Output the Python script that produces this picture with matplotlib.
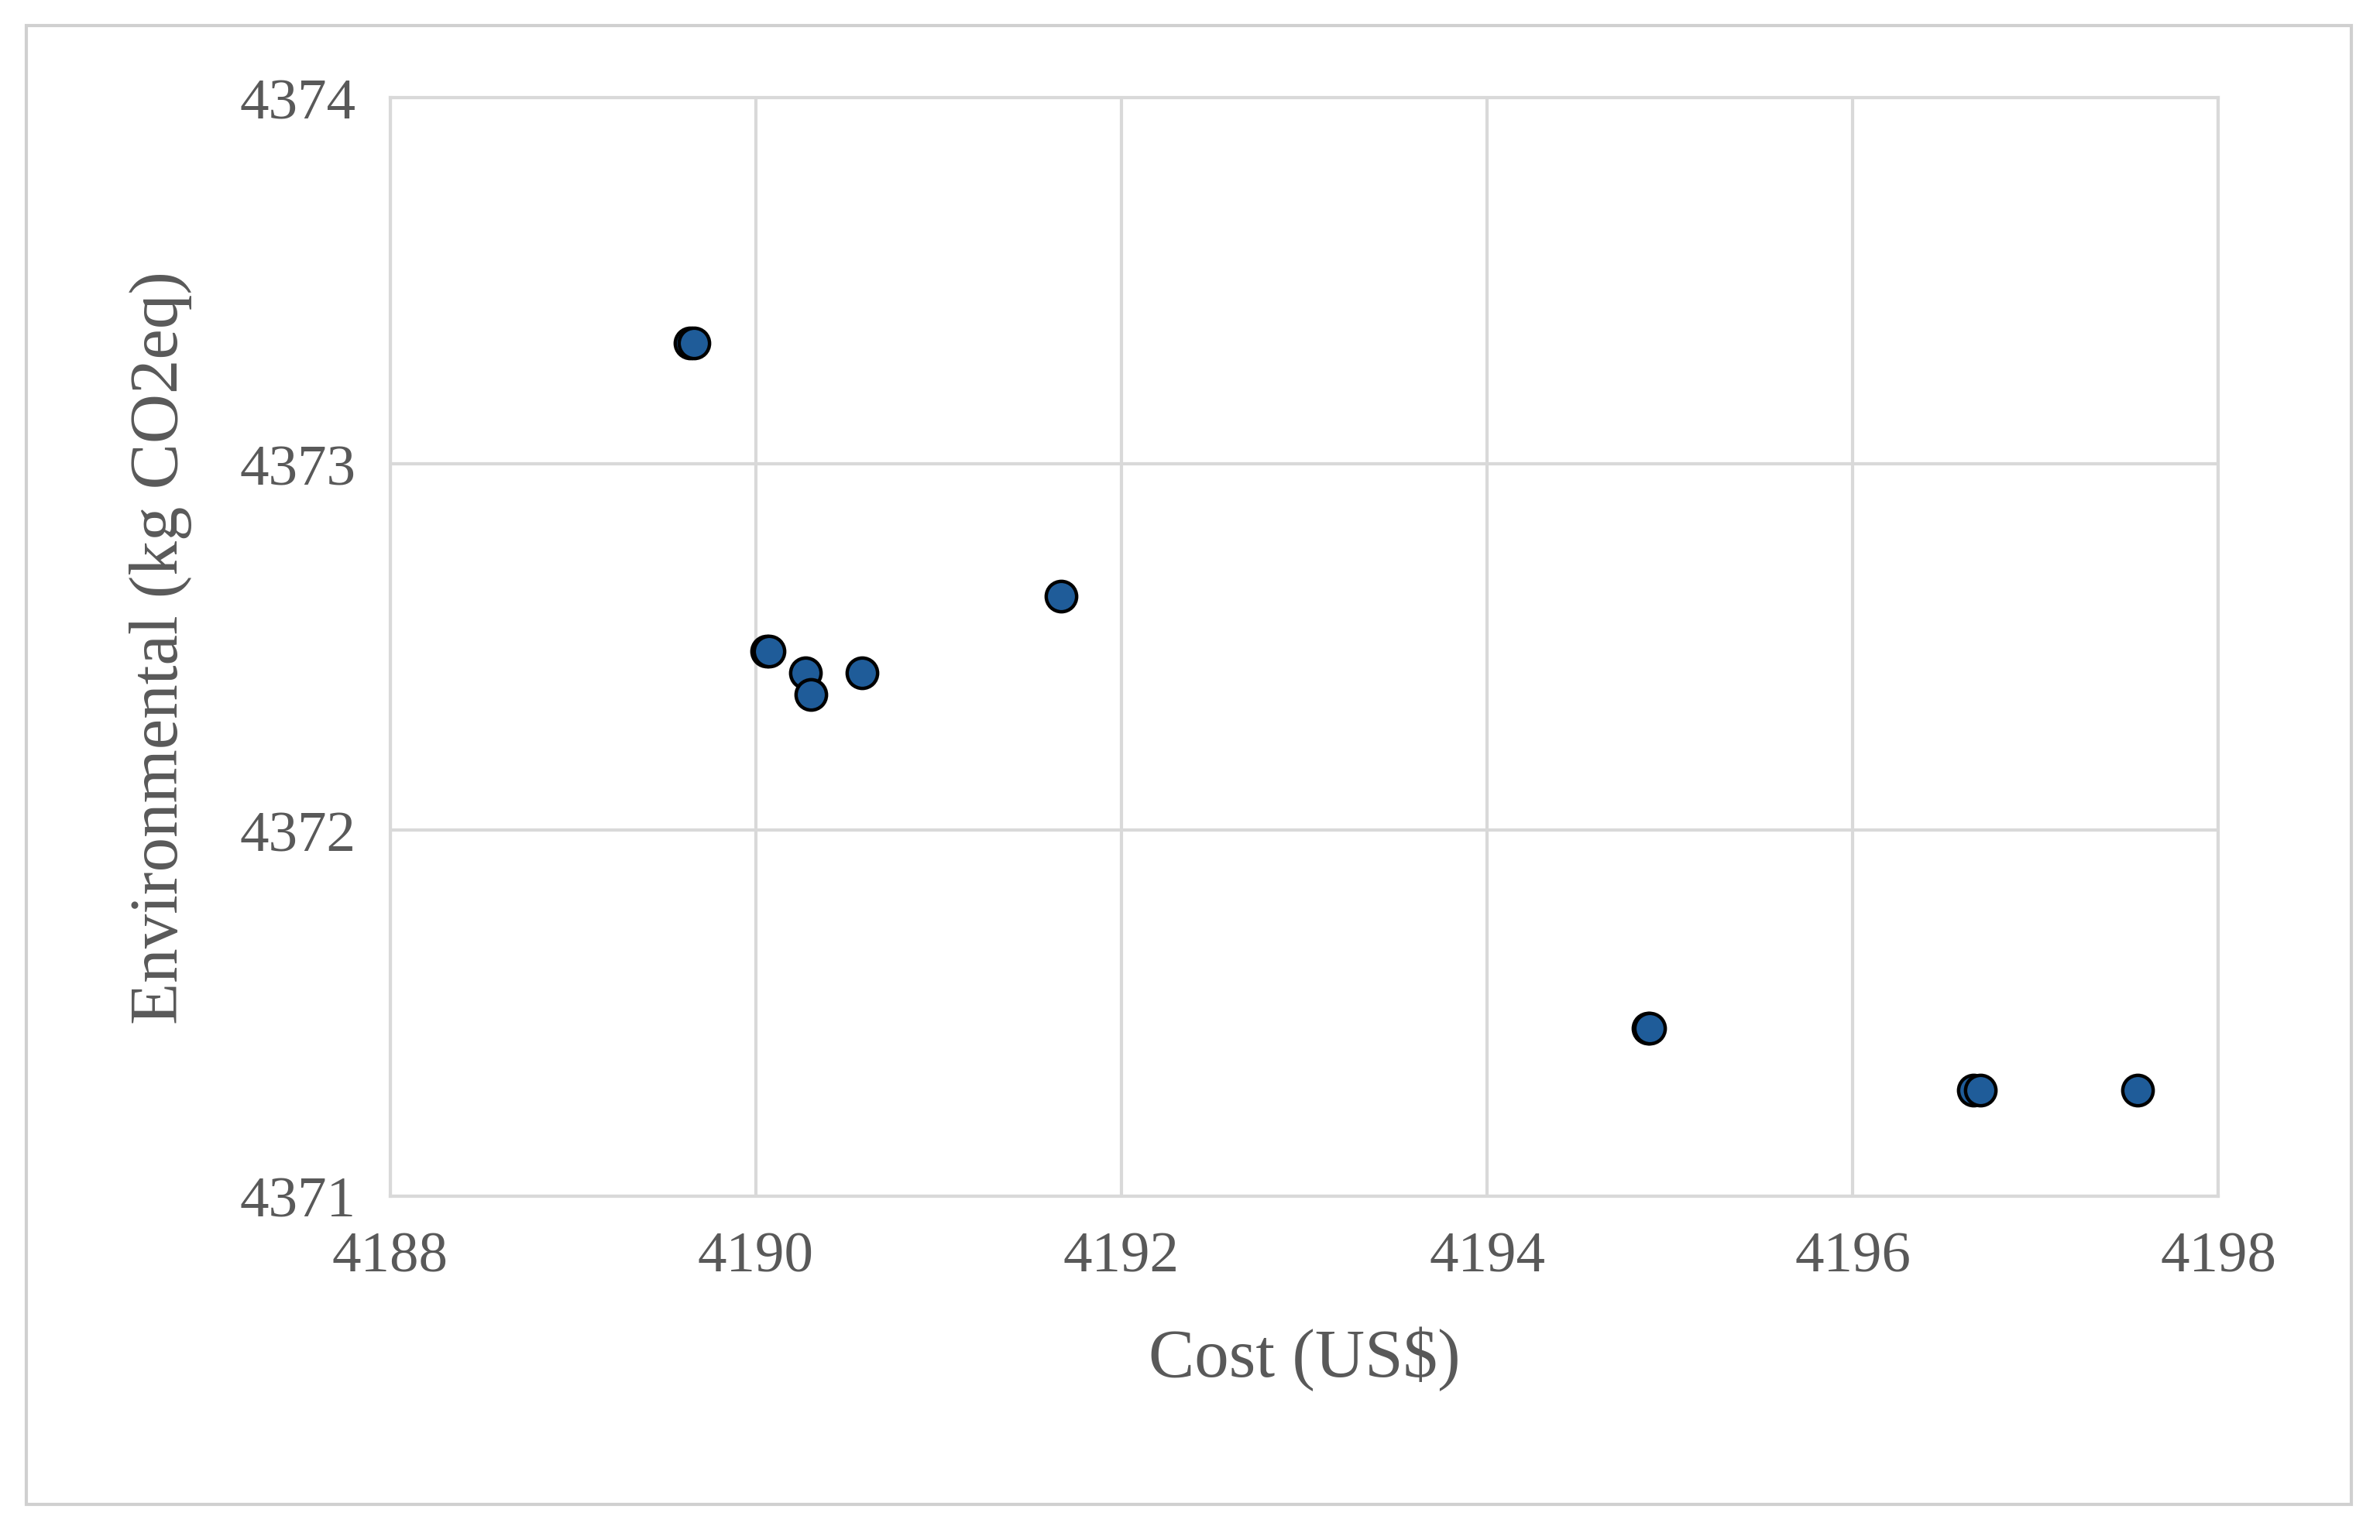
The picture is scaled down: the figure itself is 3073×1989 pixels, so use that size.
import matplotlib
matplotlib.use('Agg')
from matplotlib import pyplot as plt
from matplotlib.patches import Rectangle

# data
cost = [4189.64, 4189.66, 4190.06, 4190.07, 4190.27, 4190.30, 4190.58, 4191.67,
        4194.88, 4194.89, 4196.66, 4196.70, 4197.56]
env = [4373.33, 4373.33, 4372.49, 4372.49, 4372.43, 4372.37, 4372.43, 4372.64,
       4371.46, 4371.46, 4371.29, 4371.29, 4371.29]

plt.rcParams['font.family'] = ['Liberation Serif', 'DejaVu Serif']
txt = '#595959'

fig = plt.figure(figsize=(15.365, 9.95), dpi=200)
fig.patches.append(Rectangle((0.011, 0.023), 0.977, 0.96, transform=fig.transFigure,
                             fill=False, edgecolor='#d0d0d0', linewidth=1.5))
ax = fig.add_axes([0.164, 0.223, 0.768, 0.713])
ax.scatter(cost, env, s=200, color='#1f5c99', edgecolors='black', linewidths=1.6, zorder=3)
ax.set_xlim(4188, 4198)
ax.set_ylim(4371, 4374)
ax.set_xticks(range(4188, 4199, 2))
ax.set_yticks(range(4371, 4375))
ax.grid(True, color='#d9d9d9', linewidth=1.5)
for s in ax.spines.values():
    s.set_color('#d9d9d9')
    s.set_linewidth(1.5)
ax.tick_params(length=0, labelsize=27, colors=txt, pad=16)
ax.set_xlabel('Cost (US$)', fontsize=32, color=txt, labelpad=20)
ax.set_ylabel('Environmental (kg CO2eq)', fontsize=32, color=txt, labelpad=22)
fig.savefig('out.png')
